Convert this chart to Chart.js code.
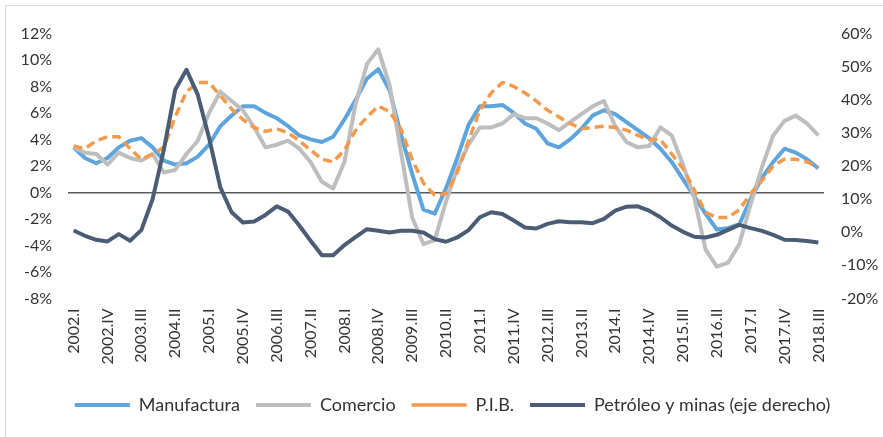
<!DOCTYPE html>
<html><head><meta charset="utf-8">
<script src="https://cdn.jsdelivr.net/npm/chart.js@4.4.1/dist/chart.umd.min.js"></script>
<style>
html,body{margin:0;padding:0;background:#fff;width:883px;height:437px;overflow:hidden;}
#frame{position:absolute;left:5px;top:5px;width:900px;height:460px;border:1px solid #d9d9d9;box-sizing:border-box;}
#wrap{position:absolute;left:0;top:0;width:883px;height:437px;}
</style></head><body>
<div id="frame"></div>
<div id="wrap"><canvas id="c" width="883" height="437"></canvas></div>
<script>
const quarters = [
"2002.I","2002.II","2002.III","2002.IV","2003.I","2003.II","2003.III","2003.IV",
"2004.I","2004.II","2004.III","2004.IV","2005.I","2005.II","2005.III","2005.IV",
"2006.I","2006.II","2006.III","2006.IV","2007.I","2007.II","2007.III","2007.IV",
"2008.I","2008.II","2008.III","2008.IV","2009.I","2009.II","2009.III","2009.IV",
"2010.I","2010.II","2010.III","2010.IV","2011.I","2011.II","2011.III","2011.IV",
"2012.I","2012.II","2012.III","2012.IV","2013.I","2013.II","2013.III","2013.IV",
"2014.I","2014.II","2014.III","2014.IV","2015.I","2015.II","2015.III","2015.IV",
"2016.I","2016.II","2016.III","2016.IV","2017.I","2017.II","2017.III","2017.IV",
"2018.I","2018.II","2018.III"];

const manufactura = [3.4,2.6,2.2,2.6,3.4,3.9,4.1,3.4,2.4,2.1,
 2.2,2.7,3.6,5.0,5.8,6.5,6.5,6.0,5.6,5.0,
 4.3,4.0,3.8,4.2,5.5,7.0,8.6,9.3,7.7,4.4,
 1.4,-1.3,-1.6,0.3,2.6,5.1,6.5,6.5,6.6,6.0,
 5.2,4.8,3.7,3.4,4.0,4.8,5.8,6.2,5.9,5.3,
 4.7,4.1,3.3,2.3,1.0,-0.3,-1.6,-2.8,-2.7,-2.4,
 -0.5,1.1,2.3,3.3,3.0,2.5,1.8];

const comercio = [3.4,3.0,2.9,2.1,3.0,2.6,2.4,2.9,1.5,1.7,
 2.9,3.9,6.0,7.6,6.9,6.2,4.9,3.4,3.6,3.9,
 3.3,2.3,0.8,0.3,2.3,6.7,9.7,10.8,8.1,3.1,
 -1.9,-3.9,-3.6,-0.7,1.8,3.6,4.9,4.9,5.2,5.9,
 5.6,5.6,5.2,4.7,5.3,5.9,6.5,6.9,5.0,3.8,
 3.4,3.5,4.9,4.3,2.1,-0.4,-4.3,-5.6,-5.3,-3.9,
 -0.9,1.9,4.3,5.4,5.8,5.2,4.3];

const pib = [3.5,3.3,3.9,4.2,4.2,3.3,2.5,2.9,3.4,5.7,
 7.6,8.3,8.3,7.3,6.3,5.5,4.9,4.6,4.8,4.5,
 3.9,3.2,2.5,2.3,3.2,4.7,5.7,6.5,6.1,4.8,
 2.5,0.7,-0.2,-0.1,1.5,3.9,6.2,7.5,8.3,8.0,
 7.5,6.9,6.2,5.7,5.2,4.8,4.9,5.0,4.9,4.7,
 4.3,4.0,4.0,2.9,1.8,0.2,-1.5,-1.9,-1.9,-1.3,
 -0.1,0.9,2.0,2.5,2.5,2.3,1.9];

const petroleo = [0.5,-1.1,-2.3,-2.8,-0.6,-2.6,0.6,10.0,25.0,43.0,
 49.0,41.5,28.5,13.5,6.0,2.9,3.2,5.2,7.8,6.2,
 2.0,-2.6,-7.0,-7.0,-3.9,-1.4,0.9,0.4,-0.1,0.4,
 0.4,-0.1,-2.1,-2.9,-1.6,0.6,4.5,6.0,5.5,3.5,
 1.4,1.1,2.5,3.3,3.0,3.0,2.7,4.0,6.5,7.7,
 7.8,6.5,4.5,2.0,0.1,-1.4,-1.6,-0.8,0.7,2.2,
 1.2,0.4,-0.8,-2.3,-2.4,-2.7,-3.1];

const seriesNames = ["Manufactura","Comercio","P.I.B.","Petróleo y minas (eje derecho)"];
const labelStep = 3;

const FONT = {family: "Lato, 'Open Sans', sans-serif", size: 16};
const LFONT = {family: "Lato, 'Open Sans', sans-serif", size: 18};
const TXT = '#333333';

const legendShift = {
  id: 'legendShift',
  afterLayout(chart) {
    if (chart.legend) { chart.legend.left += 11; chart.legend.right += 11; }
  }
};

new Chart(document.getElementById('c'), {
  type: 'line',
  data: {
    labels: quarters,
    datasets: [
      {label: seriesNames[0], data: manufactura, borderColor: '#5DA5DC', backgroundColor: '#5DA5DC', borderWidth: 4, yAxisID: 'y', order: 3},
      {label: seriesNames[1], data: comercio, borderColor: '#BFBEBE', backgroundColor: '#BFBEBE', borderWidth: 4, yAxisID: 'y', order: 2},
      {label: seriesNames[2], data: pib, borderColor: '#F39A4C', backgroundColor: '#F39A4C', borderWidth: 3.5, borderDash: [9, 5], yAxisID: 'y', order: 1},
      {label: seriesNames[3], data: petroleo, borderColor: '#4B5D75', backgroundColor: '#4B5D75', borderWidth: 4, yAxisID: 'y1', order: 0}
    ]
  },
  plugins: [legendShift],
  options: {
    responsive: false,
    animation: false,
    devicePixelRatio: 1,
    layout: {padding: {top: 33.4, bottom: 13, left: 0, right: 0}},
    elements: {point: {radius: 0}, line: {tension: 0, borderJoinStyle: 'round', borderCapStyle: 'butt'}},
    plugins: {
      tooltip: {enabled: false},
      legend: {
        position: 'bottom',
        labels: {
          usePointStyle: true, pointStyle: 'line', pointStyleWidth: 55,
          padding: 16, font: LFONT, color: TXT,
          sort: (a, b) => a.datasetIndex - b.datasetIndex
        }
      }
    },
    scales: {
      x: {
        offset: true,
        grid: {display: false, drawTicks: false},
        border: {display: false},
        ticks: {
          autoSkip: false, minRotation: 90, maxRotation: 90, padding: 10,
          font: FONT, color: TXT,
          callback: function(v, i) { return i % labelStep === 0 ? this.getLabelForValue(v) : ''; }
        },
        afterFit: s => { s.height = 81.6; }
      },
      y: {
        position: 'left', min: -8, max: 12,
        border: {display: false},
        grid: {
          drawTicks: false,
          color: c => c.tick && c.tick.value === 0 ? '#5a5a5a' : 'rgba(0,0,0,0)',
          lineWidth: c => c.tick && c.tick.value === 0 ? 1.5 : 0
        },
        ticks: {stepSize: 2, padding: 16, font: FONT, color: TXT, callback: v => v + '%'},
        afterFit: s => { s.width = 68; }
      },
      y1: {
        position: 'right', min: -20, max: 60,
        border: {display: false},
        grid: {display: false, drawTicks: false},
        ticks: {stepSize: 10, padding: 17, font: FONT, color: TXT, callback: v => v + '%'},
        afterFit: s => { s.width = 59; }
      }
    }
  }
});
</script>
</body></html>
